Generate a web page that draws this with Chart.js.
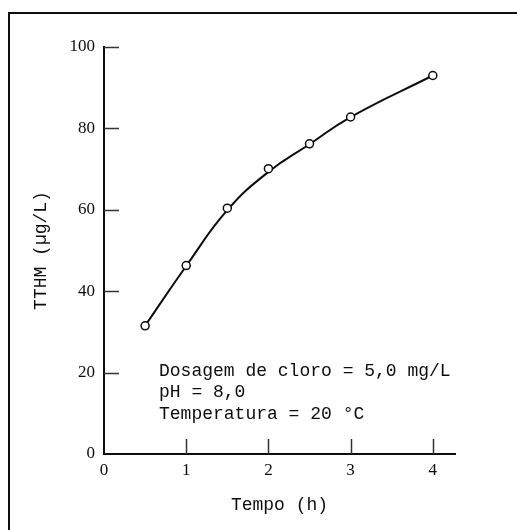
<!DOCTYPE html>
<html>
<head>
<meta charset="utf-8">
<script src="https://cdn.jsdelivr.net/npm/chart.js@4.4.1/dist/chart.umd.min.js"></script>
<style>
  html, body { margin: 0; padding: 0; background: #fff; }
  #grafico { width: 517px; height: 530px; }
</style>
</head>
<body>
<div id="grafico"><canvas id="tthm"></canvas></div>
<script>
// Formação de TTHM ao longo do tempo
const tempo = [0.5, 1, 1.5, 2, 2.5, 3, 4];                     // h
const tthmMedido = [31.5, 46.3, 60.4, 70.1, 76.2, 82.8, 93];   // µg/L
const tthmCurva = [31.5, 46.2, 59.9, 69.3, 76.1, 82.8, 93];    // curva ajustada
const ticksTempo = [0, 1, 2, 3, 4];
const ticksTthm = [0, 20, 40, 60, 80, 100];
const condicoes = [
    'Dosagem de cloro = 5,0 mg/L',
    'pH = 8,0',
    'Temperatura = 20 °C'
];

const corTinta = '#0d0d0d';
const fonteMono = 'Liberation Mono, Courier New, monospace';
const fonteSerif = 'Liberation Serif, Times New Roman, serif';

function pares(xs, ys) {
    return xs.map((x, i) => ({ x: x, y: ys[i] }));
}

// Moldura, marcas internas dos eixos e o texto das condições
const extras = {
    id: 'extras',
    afterDraw(chart) {
        const ctx = chart.ctx;
        const area = chart.chartArea;
        const sx = chart.scales.x;
        const sy = chart.scales.y;
        ctx.save();
        ctx.strokeStyle = corTinta;

        // moldura (só topo e esquerda)
        ctx.lineWidth = 2;
        ctx.beginPath();
        ctx.moveTo(9, chart.height);
        ctx.lineTo(9, 13);
        ctx.lineTo(chart.width, 13);
        ctx.stroke();

        // marcas viradas para dentro
        ctx.strokeStyle = '#333';
        ctx.lineWidth = 1.5;
        ctx.beginPath();
        for (const v of ticksTthm) {
            if (v === 0) continue;
            const y = Math.round(sy.getPixelForValue(v)) + 0.5;
            ctx.moveTo(area.left, y);
            ctx.lineTo(area.left + 15, y);
        }
        for (const v of ticksTempo) {
            if (v === 0) continue;
            const x = Math.round(sx.getPixelForValue(v)) + 0.5;
            ctx.moveTo(x, area.bottom);
            ctx.lineTo(x, area.bottom - 15);
        }
        ctx.stroke();

        // condições do ensaio
        ctx.fillStyle = corTinta;
        ctx.font = '18px ' + fonteMono;
        ctx.textBaseline = 'middle';
        ctx.textAlign = 'left';
        condicoes.forEach((linha, i) => {
            ctx.fillText(linha, area.left + 55, area.top + 324 + i * 21.5);
        });
        ctx.restore();
    }
};

const ctx = document.getElementById('tthm').getContext('2d');
new Chart(ctx, {
    type: 'line',
    data: {
        datasets: [{
            // pontos medidos (desenhados por cima da curva)
            data: pares(tempo, tthmMedido),
            showLine: false,
            pointRadius: 4,
            pointBorderWidth: 1.5,
            pointBackgroundColor: '#fff',
            pointBorderColor: corTinta,
            order: 0
        }, {
            data: pares(tempo, tthmCurva),
            borderColor: corTinta,
            borderWidth: 2,
            tension: 0.45,
            pointRadius: 0,
            fill: false,
            order: 1
        }]
    },
    options: {
        responsive: true,
        maintainAspectRatio: false,
        animation: false,
        layout: { padding: { left: 0, top: 47, right: 62, bottom: 0 } },
        plugins: {
            legend: { display: false },
            tooltip: { enabled: false }
        },
        scales: {
            x: {
                type: 'linear',
                min: 0,
                max: 4.27,
                afterBuildTicks: (scale) => {
                    scale.ticks = ticksTempo.map(v => ({ value: v }));
                },
                afterFit: (scale) => { scale.height = 76; },
                grid: { display: false, drawTicks: false },
                border: { display: true, color: corTinta, width: 2 },
                ticks: {
                    color: corTinta,
                    padding: 6,
                    maxRotation: 0,
                    font: { family: fonteSerif, size: 17 }
                },
                title: {
                    display: true,
                    text: 'Tempo (h)',
                    color: corTinta,
                    font: { family: fonteMono, size: 18 },
                    padding: { top: 0, bottom: 14 }
                }
            },
            y: {
                min: 0,
                max: 100,
                afterBuildTicks: (scale) => {
                    scale.ticks = ticksTthm.map(v => ({ value: v }));
                },
                afterFit: (scale) => { scale.width = 104; },
                grid: { display: false, drawTicks: false },
                border: { display: true, color: corTinta, width: 2 },
                ticks: {
                    color: corTinta,
                    padding: 9,
                    font: { family: fonteSerif, size: 17 }
                },
                title: {
                    display: true,
                    text: 'TTHM (µg/L)',
                    color: corTinta,
                    font: { family: fonteMono, size: 18 },
                    padding: { top: 30, bottom: 0 }
                }
            }
        }
    },
    plugins: [extras]
});
</script>
</body>
</html>
